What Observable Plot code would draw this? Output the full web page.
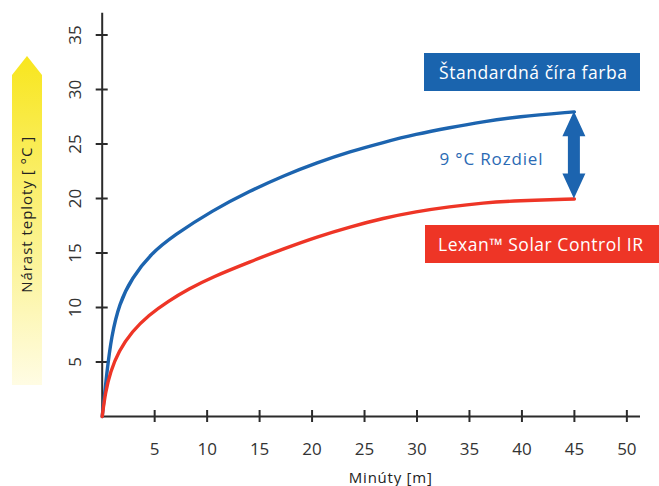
<!DOCTYPE html>
<html>
<head>
<meta charset="utf-8">
<script src="https://cdn.jsdelivr.net/npm/d3@7"></script>
<script src="https://cdn.jsdelivr.net/npm/@observablehq/plot@0.6"></script>
<style>
  html, body { margin: 0; padding: 0; background: #fff; }
  #chart { width: 659px; height: 486px; overflow: hidden; }
</style>
</head>
<body>
<div id="chart"></div>
<script>
// Data
const standardMinutes = [0, 0.46, 0.87, 1.63, 2.83, 4.6, 6.8, 10.5, 14.1, 17.3, 20.5, 23.6, 26.8, 29.9, 33.1, 36.3, 39.5, 45];
const standardRise    = [0, 4.2, 7.3, 10.4, 12.7, 14.9, 16.6, 18.9, 20.7, 22.1, 23.3, 24.3, 25.15, 25.9, 26.5, 27.05, 27.5, 27.95];
const lexanMinutes    = [0, 0.3, 0.78, 1.57, 2.84, 4.42, 6.32, 8.22, 10.5, 14.1, 17.3, 20.5, 23.6, 26.8, 29.9, 33.1, 36.3, 39.5, 45];
const lexanRise       = [0, 2.2, 4.1, 6.0, 7.8, 9.3, 10.6, 11.7, 12.8, 14.2, 15.4, 16.5, 17.4, 18.2, 18.8, 19.25, 19.6, 19.8, 19.95];
const xTicks = [5, 10, 15, 20, 25, 30, 35, 40, 45, 50];
const yTicks = [5, 10, 15, 20, 25, 30, 35];
const seriesNames = ["Štandardná číra farba", "Lexan™ Solar Control IR"];
const seriesColors = ["#1c64af", "#ee3526"];
const diffLabel = "9 °C Rozdiel";
const xLabel = "Minúty [m]";
const yLabel = "Nárast teploty [ °C ]";

const rows = [
  ...standardMinutes.map((m, i) => ({series: seriesNames[0], x: m, y: standardRise[i]})),
  ...lexanMinutes.map((m, i) => ({series: seriesNames[1], x: m, y: lexanRise[i]}))
];

const font = "'Open Sans', sans-serif";
const axisColor = "#2b2b2b";

const plot = Plot.plot({
  width: 659,
  height: 486,
  marginLeft: 101.7,
  marginRight: 19,
  marginTop: 12.7,
  marginBottom: 70,
  x: {domain: [0, 51.3]},
  y: {domain: [0, 37]},
  color: {domain: seriesNames, range: seriesColors},
  style: {fontFamily: font, fontSize: "17px", color: axisColor, background: "transparent", overflow: "visible"},
  marks: [
    Plot.ruleX([0], {stroke: axisColor, strokeWidth: 2}),
    Plot.ruleY([0], {stroke: axisColor, strokeWidth: 2}),
    Plot.axisX({ticks: xTicks, tickSize: 12, dy: -6, fill: "none", stroke: axisColor, strokeWidth: 2, label: null}),
    Plot.axisX({ticks: xTicks, tickSize: 0, tickPadding: 26, stroke: "none", fill: "#333", label: null}),
    Plot.axisY({ticks: yTicks, tickSize: 12, dx: 6, fill: "none", stroke: axisColor, strokeWidth: 2, label: null}),
    Plot.axisY({ticks: yTicks, tickSize: 0, tickPadding: 21, tickRotate: -90, stroke: "none", fill: "#333", label: null}),
    Plot.line(rows, {x: "x", y: "y", z: "series", stroke: "series", strokeWidth: 3.4, curve: "basis"}),
    Plot.text([xLabel], {frameAnchor: "bottom", dx: 19, dy: 62, lineAnchor: "middle", textAnchor: "middle", fontSize: 15, fill: "#222"}),
    Plot.text([yLabel], {frameAnchor: "left", dx: -75, rotate: -90, lineAnchor: "middle", textAnchor: "middle", fontSize: 15, fill: "#222"})
  ]
});

document.getElementById("chart").appendChild(plot);

const svg = d3.select(plot);
const xs = plot.scale("x"), ys = plot.scale("y");

// stretch axis titles to the reference widths
svg.selectAll("text").filter(function () { return this.textContent === yLabel; })
  .attr("textLength", 156).attr("lengthAdjust", "spacing");
svg.selectAll("text").filter(function () { return this.textContent === xLabel; })
  .attr("textLength", 83).attr("lengthAdjust", "spacing");

// Yellow gradient arrow behind the y label
const defs = svg.insert("defs", ":first-child");
const grad = defs.append("linearGradient").attr("id", "yellowGrad")
  .attr("x1", 0).attr("y1", 0).attr("x2", 0).attr("y2", 1);
grad.append("stop").attr("offset", "0%").attr("stop-color", "#f8e61e");
grad.append("stop").attr("offset", "55%").attr("stop-color", "#fbf28a");
grad.append("stop").attr("offset", "100%").attr("stop-color", "#fffce4");
svg.insert("path", "defs + *")
  .attr("d", "M27,56 L42,75 L42,385 L12,385 L12,75 Z")
  .attr("fill", "url(#yellowGrad)");

// Double arrow between the two series' end points
const arrX = xs.apply(standardMinutes[standardMinutes.length - 1]);
const arrTop = ys.apply(standardRise[standardRise.length - 1]);
const arrBot = ys.apply(lexanRise[lexanRise.length - 1]);
const hw = 11.5, hl = 25, sw = 6;
svg.append("path")
  .attr("d", `M${arrX},${arrTop} L${arrX+hw},${arrTop+hl} L${arrX+sw},${arrTop+hl} L${arrX+sw},${arrBot-hl} L${arrX+hw},${arrBot-hl} L${arrX},${arrBot} L${arrX-hw},${arrBot-hl} L${arrX-sw},${arrBot-hl} L${arrX-sw},${arrTop+hl} L${arrX-hw},${arrTop+hl} Z`)
  .attr("fill", "#1c64af");

svg.append("text")
  .attr("x", 491).attr("y", 158)
  .attr("text-anchor", "middle").attr("dominant-baseline", "central")
  .attr("font-family", font).attr("font-size", 17).attr("fill", "#2a6ab4")
  .attr("textLength", 103).attr("lengthAdjust", "spacing")
  .text(diffLabel);

// Series label boxes
const boxes = [
  {x: 424, y: 53, w: 216, h: 38, cxText: 533, len: 188, fill: "#1a64ae", text: seriesNames[0]},
  {x: 425, y: 225, w: 234, h: 38, cxText: 540.5, len: 205, fill: "#ee3526", text: seriesNames[1]}
];
boxes.forEach(b => {
  svg.append("rect").attr("x", b.x).attr("y", b.y).attr("width", b.w).attr("height", b.h).attr("fill", b.fill);
  svg.append("text")
    .attr("x", b.cxText).attr("y", b.y + b.h / 2)
    .attr("text-anchor", "middle").attr("dominant-baseline", "central")
    .attr("font-family", font).attr("font-size", 17.5).attr("fill", "#fff")
    .attr("textLength", b.len).attr("lengthAdjust", "spacing")
    .text(b.text);
});
</script>
</body>
</html>
